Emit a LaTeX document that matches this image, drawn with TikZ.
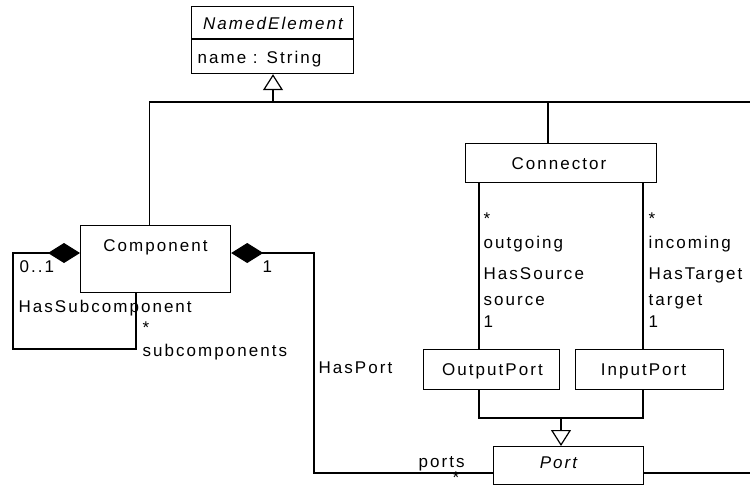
\documentclass[tikz,border=0pt]{standalone}
\usepackage{fontspec}
\setmainfont{Liberation Sans}[LetterSpace=12]
\usetikzlibrary{arrows.meta}
\begin{document}
\begin{tikzpicture}[x=1pt,y=-1pt, line width=1.2pt,
  font=\fontsize{17}{20}\selectfont,
  box/.style={draw, line width=1.2pt, inner sep=0pt, anchor=north west},
  txt/.style={inner sep=0pt, anchor=base west},
  ctxt/.style={inner sep=0pt, anchor=base},
  gen/.style={-{Triangle[open,length=16pt,width=20pt]}},
  compo/.style={{Diamond[length=32pt,width=20pt]}-}]
\useasboundingbox (0,0) rectangle (750,487);

% classes
\node[box, minimum width=162pt, minimum height=67pt] (ne) at (191,6) {};
\coordinate (nediv) at (0,39);
\draw (ne.west |- nediv) -- (ne.east |- nediv);
\node[ctxt] (net) at (273,30) {\itshape NamedElement};
\node[txt] (nea) at (197,64) {name : String};

\node[box, minimum width=150pt, minimum height=67pt] (comp) at (80,225) {};
\node[ctxt] (compt) at (155.5,251) {Component};

\node[box, minimum width=191pt, minimum height=39pt] (conn) at (465,143) {};
\node[ctxt] (connt) at (559,169) {Connector};

\node[box, minimum width=136pt, minimum height=40pt] (op) at (423,349) {};
\node[ctxt] (opt) at (492.5,375) {OutputPort};

\node[box, minimum width=148pt, minimum height=40pt] (ip) at (575,349) {};
\node[ctxt] (ipt) at (643.5,375) {InputPort};

\node[box, minimum width=150pt, minimum height=38pt] (port) at (493,446) {};
\node[ctxt] (portt) at (558.5,468) {\itshape Port};

% generalization to NamedElement
\coordinate (j1) at (273,102);
\coordinate (cx) at (149.5,0);
\coordinate (cy) at (548,0);
\coordinate (hr) at (750,102);
\draw (comp.north -| cx) |- (hr);
\draw (conn.north -| cy) -- (cy |- j1);
\draw[gen] (j1) -- (ne.south -| j1);

% generalization to Port
\coordinate (a) at (479,0);
\coordinate (b) at (643,0);
\coordinate (j2) at (561,418);
\draw (op.south -| a) |- (j2) -| (ip.south -| b);
\draw[gen] (j2) -- (port.north -| j2);

% HasSource / HasTarget
\draw (conn.south -| a) -- (op.north -| a);
\draw (conn.south -| b) -- (ip.north -| b);
\node[txt] (s1) at (483,224) {*};
\node[txt] (s2) at (483,248) {outgoing};
\node[txt] (s3) at (483,279) {HasSource};
\node[txt] (s4) at (483,305) {source};
\node[txt] (s5) at (483,327) {1};
\node[txt] (t1) at (648,224) {*};
\node[txt] (t2) at (648,248) {incoming};
\node[txt] (t3) at (648,279) {HasTarget};
\node[txt] (t4) at (648,305) {target};
\node[txt] (t5) at (648,327) {1};

% HasSubcomponent
\coordinate (ly) at (0,253);
\coordinate (l1) at (13,349);
\coordinate (l2) at (136,0);
\draw[compo] (comp.west |- ly) -| (l1) -| (comp.south -| l2);
\node[txt] (m1) at (19,272) {0..1};
\node[txt] (hs) at (18,312) {HasSubcomponent};
\node[txt] (m2) at (142,333) {*};
\node[txt] (sc) at (142,356) {subcomponents};

% HasPort
\coordinate (pl) at (0,473);
\coordinate (r1) at (314,473);
\coordinate (pr) at (750,473);
\draw[compo] (comp.east |- ly) -| (r1) -- (port.west |- pl);
\draw (port.east |- pl) -- (pr);
\node[txt] (m3) at (262,272) {1};
\node[txt] (hp) at (318,373) {HasPort};
\node[txt] (pn) at (418,467) {ports};
\node[txt] (m4) at (452,483) {*};
\end{tikzpicture}
\end{document}
